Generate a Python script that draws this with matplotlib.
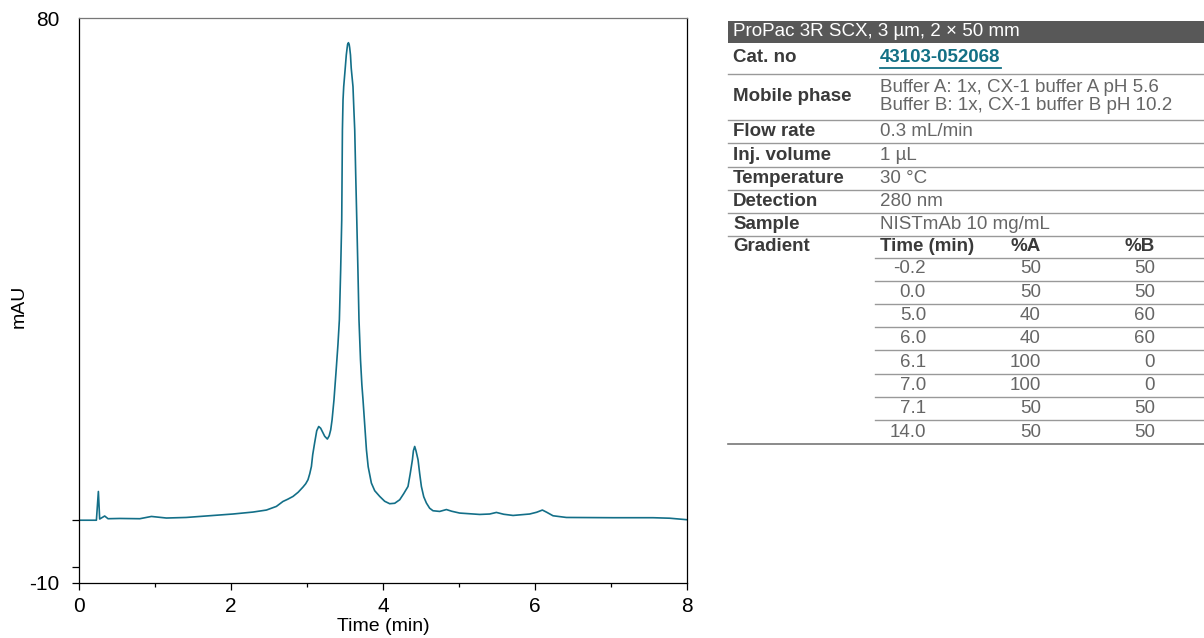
import numpy as np
import matplotlib.pyplot as plt
from matplotlib.ticker import FixedLocator

plt.rcParams['font.family'] = ['Liberation Sans', 'DejaVu Sans']

# chromatogram (time in min, signal in mAU)
time_min = [0.0, 0.229, 0.255, 0.272, 0.338, 0.382, 0.536, 0.80, 0.953, 1.15, 1.41, 1.59,
            2.026, 2.289, 2.466, 2.597, 2.684, 2.746, 2.816, 2.884, 2.947, 2.983, 3.013,
            3.036, 3.058, 3.075, 3.10, 3.128, 3.154, 3.18, 3.233, 3.268, 3.292, 3.312,
            3.33, 3.355, 3.384, 3.407, 3.426, 3.443, 3.457, 3.466, 3.474, 3.483, 3.503,
            3.517, 3.528, 3.534, 3.545, 3.555, 3.562, 3.572, 3.582, 3.605, 3.617, 3.628,
            3.641, 3.655, 3.670, 3.684, 3.704, 3.722, 3.737, 3.755, 3.782, 3.805, 3.847,
            3.891, 3.957, 4.022, 4.088, 4.154, 4.22, 4.272, 4.329, 4.358, 4.387, 4.400,
            4.417, 4.434, 4.461, 4.483, 4.505, 4.536, 4.571, 4.614, 4.658, 4.746, 4.834,
            4.904, 5.009, 5.272, 5.404, 5.492, 5.588, 5.711, 5.93, 6.022, 6.097, 6.154,
            6.237, 6.413, 7.026, 7.553, 7.772, 8.0]
signal = [0.0, 0.0, 4.58, 0.19, 0.67, 0.24, 0.28, 0.24, 0.60, 0.35, 0.44, 0.60,
          0.99, 1.30, 1.62, 2.20, 2.99, 3.34, 3.79, 4.46, 5.28, 5.81, 6.45,
          7.40, 8.56, 10.43, 12.29, 14.25, 14.93, 14.65, 13.37, 12.93, 13.45, 14.4,
          16.0, 19.18, 23.96, 27.94, 31.92, 39.9, 47.84, 62.17, 66.95, 69.07, 72.0,
          74.11, 75.22, 75.78, 76.07, 75.78, 75.22, 74.11, 72.0, 69.07, 65.35, 62.17,
          55.0, 47.84, 39.9, 31.92, 25.55, 21.57, 19.18, 16.0, 11.22, 8.52, 5.92,
          4.70, 3.79, 3.02, 2.63, 2.70, 3.26, 4.22, 5.38, 7.40, 9.63, 11.06,
          11.75, 11.06, 9.63, 7.40, 5.38, 3.74, 2.74, 1.91, 1.51, 1.40, 1.70,
          1.43, 1.14, 0.92, 0.99, 1.24, 0.95, 0.76, 0.99, 1.27, 1.62, 1.27,
          0.71, 0.44, 0.40, 0.40, 0.32, 0.08]

# method table
header = 'ProPac 3R SCX, 3 µm, 2 × 50 mm'
cat_no = '43103-052068'
param_labels = ['Mobile phase', 'Flow rate', 'Inj. volume', 'Temperature', 'Detection', 'Sample']
param_values = ['Buffer A: 1x, CX-1 buffer A pH 5.6\nBuffer B: 1x, CX-1 buffer B pH 10.2',
                '0.3 mL/min', '1 µL', '30 °C', '280 nm', 'NISTmAb 10 mg/mL']
grad_time = ['-0.2', '0.0', '5.0', '6.0', '6.1', '7.0', '7.1', '14.0']
grad_a = ['50', '50', '40', '40', '100', '100', '50', '50']
grad_b = ['50', '50', '60', '60', '0', '0', '50', '50']

W, H = 1204, 638
fig = plt.figure(figsize=(W / 100, H / 100), dpi=100)
ax = fig.add_axes([79 / W, 1 - 583 / H, (687 - 79) / W, (583 - 18) / H])

ax.plot(time_min, signal, color='#136f88', lw=1.2)
ax.set_xlim(0, 8)
ax.set_ylim(-10, 80)
ax.set_xticks([0, 2, 4, 6, 8])
ax.xaxis.set_minor_locator(FixedLocator([1, 3, 5, 7]))
ax.set_yticks([-10, -7.4, 0, 80])
ax.set_yticklabels(['-10', '', '', '80'])
ax.yaxis.get_major_ticks()[3].tick1line.set_visible(False)
ax.tick_params(axis='both', which='major', length=5, width=0.9, labelsize=15)
ax.tick_params(axis='x', which='major', pad=5)
ax.tick_params(axis='y', which='major', pad=9)
ax.tick_params(axis='x', which='minor', length=3, width=0.9)
ax.set_xlabel('Time (min)', fontsize=14, labelpad=1.5)
ax.set_ylabel('mAU', fontsize=14)
ax.yaxis.set_label_coords(-0.084, 0.49)
ax.spines['top'].set_color('#777777')
for s in ax.spines.values():
    s.set_linewidth(0.9)

# ---- table on the right ----
def fy(py):
    return 1 - py / H

x0, x1 = 728 / W, 1.0
xl, xv = 733 / W, 880 / W
dark, light = '#3a3a3a', '#666666'
fs = 13.5

fig.patches.append(plt.Rectangle((x0, fy(43)), x1 - x0, (43 - 21) / H,
                                 transform=fig.transFigure, color='#585858', lw=0))
fig.text(xl, fy(32), header, color='white', fontsize=fs, va='center')

def hline(py, xs=x0, color='#999999', lw=1.0):
    fig.add_artist(plt.Line2D([xs, x1], [fy(py), fy(py)], transform=fig.transFigure,
                              color=color, lw=lw))

fig.text(xl, fy(58), 'Cat. no', color=dark, fontsize=fs, fontweight='bold', va='center')
link = fig.text(xv, fy(58), cat_no, color='#137085', fontsize=fs, fontweight='bold', va='center')
fig.canvas.draw()
bb = link.get_window_extent()
fig.add_artist(plt.Line2D([bb.x0 / W, bb.x1 / W], [fy(67.5), fy(67.5)],
                          transform=fig.transFigure, color='#137085', lw=1.3))
hline(73.5)

row_edges = [73.5, 120.1, 143.4, 166.7, 189.8, 213, 236]
for i, (lab, val) in enumerate(zip(param_labels, param_values)):
    yc = (row_edges[i] + row_edges[i + 1]) / 2
    fig.text(xl, fy(yc), lab, color=dark, fontsize=fs, fontweight='bold', va='center')
    fig.text(xv, fy(yc), val, color=light, fontsize=fs, va='center', linespacing=1.1)
    hline(row_edges[i + 1])

fig.text(xl, fy(246.5), 'Gradient', color=dark, fontsize=fs, fontweight='bold', va='center')
fig.text(xv, fy(246.5), 'Time (min)', color=dark, fontsize=fs, fontweight='bold', va='center')
fig.text(1041 / W, fy(246.5), '%A', color=dark, fontsize=fs, fontweight='bold', va='center', ha='right')
fig.text(1155 / W, fy(246.5), '%B', color=dark, fontsize=fs, fontweight='bold', va='center', ha='right')
hline(257.5, xs=875 / W)

for i in range(len(grad_time)):
    yc = 269 + i * 23.3
    fig.text(926 / W, fy(yc), grad_time[i], color=light, fontsize=fs, va='center', ha='right')
    fig.text(1041 / W, fy(yc), grad_a[i], color=light, fontsize=fs, va='center', ha='right')
    fig.text(1155 / W, fy(yc), grad_b[i], color=light, fontsize=fs, va='center', ha='right')
    if i < len(grad_time) - 1:
        hline(yc + 11.6, xs=875 / W)
hline(444, color='#777777', lw=1.2)

fig.savefig('out.png', dpi=100)
